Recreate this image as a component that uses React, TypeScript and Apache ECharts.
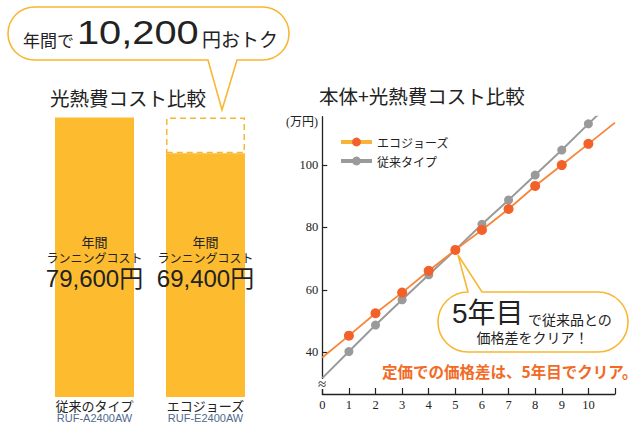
import React, { useEffect, useRef } from 'react';
import * as echarts from 'echarts';

// ---- data ----
const barCategories = ['従来のタイプ', 'エコジョーズ'];
const barModels = ['RUF-A2400AW', 'RUF-E2400AW'];
const runningCosts = [79600, 69400];
const savingGap: (number | null)[] = [null, 10200];

const years = [0, 1, 2, 3, 4, 5, 6, 7, 8, 9, 10, 11];
const ecoTotals = [38.3, 45.3, 52.5, 59.1, 66.1, 72.8, 79.2, 85.9, 93.3, 100.0, 106.8, 113.6];
const conventionalTotals = [31.7, 40.2, 48.7, 56.8, 64.8, 72.8, 81.0, 88.8, 96.8, 104.8, 113.2, 121.4];
const markedYears = [1, 2, 3, 4, 5, 6, 7, 8, 9, 10];
const yTickValues = [40, 60, 80, 100];
const xLabelMax = 10;

const SERIES_ECO = 'エコジョーズ';
const SERIES_CONV = '従来タイプ';

const CJK = '"Noto Sans CJK JP", sans-serif';
const LATIN = '"Liberation Sans", "Noto Sans CJK JP", sans-serif';
const SERIF = '"Liberation Serif", "DejaVu Serif", serif';

const BUBBLE1 =
  'M 34.5 7 H 262.5 A 26.5 26.5 0 0 1 289 33.5 A 26.5 26.5 0 0 1 262.5 60 H 237 L 222 110 L 208 60 H 34.5 A 26.5 26.5 0 0 1 8 33.5 A 26.5 26.5 0 0 1 34.5 7 Z';
const BUBBLE2 =
  'M 482 292 H 598 A 30 30 0 0 1 628 322 A 30 30 0 0 1 598 352 H 468 A 30 30 0 0 1 438 322 A 30 30 0 0 1 468 292 L 458 255 Z';

let registered = false;
function registerShapes() {
  if (registered) return;
  registered = true;
  echarts.graphic.registerShape('bubbleTop', echarts.graphic.extendPath(BUBBLE1, {}) as any);
  echarts.graphic.registerShape('bubbleRight', echarts.graphic.extendPath(BUBBLE2, {}) as any);
}

const fmt = (v: number) => v.toLocaleString('en-US');

export default function App() {
  const ref = useRef<HTMLDivElement>(null);
  useEffect(() => {
    if (!ref.current) return;
    registerShapes();
    const chart = echarts.init(ref.current, undefined, { renderer: 'svg' });
    const lineData = (vals: number[]) =>
      years.map((x, i) => ({
        value: [x, vals[i]],
        symbol: markedYears.includes(x) ? 'circle' : 'none',
      }));
    const option: any = {
      animation: false,
      backgroundColor: '#ffffff',
      textStyle: { fontFamily: CJK, color: '#222' },
      grid: [
        { left: 39, width: 222, top: 117.5, height: 279.5 },
        { left: 322.3, width: 292.7, top: 116.7, height: 277.3 },
      ],
      xAxis: [
        {
          type: 'category',
          gridIndex: 0,
          data: barCategories,
          axisLine: { show: false },
          axisTick: { show: false },
          axisLabel: {
            interval: 0,
            hideOverlap: false,
            margin: 1,
            formatter: (v: string, i: number) => `{a|${v}}\n{b|${barModels[i]}}`,
            rich: {
              a: { fontFamily: CJK, fontSize: 13, color: '#222', lineHeight: 14 },
              b: { fontFamily: '"Liberation Sans", sans-serif', fontSize: 11, color: '#4f6a8c', lineHeight: 12 },
            },
          },
        },
        {
          type: 'value',
          gridIndex: 1,
          min: 0,
          max: 11,
          interval: 1,
          axisLine: { lineStyle: { color: '#222', width: 1.3 } },
          axisTick: { inside: true, length: 6, lineStyle: { color: '#222', width: 1.2 } },
          axisLabel: {
            margin: 4,
            fontFamily: SERIF,
            fontSize: 12.5,
            color: '#222',
            formatter: (v: number) => (v <= xLabelMax ? String(v) : ''),
          },
          splitLine: { show: false },
        },
      ],
      yAxis: [
        { type: 'value', gridIndex: 0, min: 0, max: runningCosts[0], show: false },
        {
          type: 'value',
          gridIndex: 1,
          min: 26.6,
          max: 115.5,
          axisLine: { show: true, lineStyle: { color: '#222', width: 1.3 } },
          axisTick: { show: true, inside: true, length: 5, customValues: yTickValues, lineStyle: { color: '#222', width: 1.2 } },
          axisLabel: {
            margin: 4,
            customValues: yTickValues,
            color: '#222222',
            formatter: (v: number) => `{k|${v}}`,
            rich: { k: { fontFamily: SERIF, fontSize: 12.5, color: '#222222' } },
          },
          splitLine: { show: false },
        },
      ],
      legend: {
        orient: 'vertical',
        left: 339,
        top: 136,
        padding: 0,
        itemWidth: 31,
        itemHeight: 11,
        itemGap: 7,
        textStyle: { fontFamily: CJK, fontSize: 12, color: '#222' },
        data: [
          { name: SERIES_ECO, itemStyle: { color: '#f4602a' }, lineStyle: { color: '#f7b43a', width: 4 } },
          { name: SERIES_CONV, itemStyle: { color: '#9a9a9a' }, lineStyle: { color: '#9a9a9a', width: 4 } },
        ],
      },
      series: [
        {
          type: 'bar',
          xAxisIndex: 0,
          yAxisIndex: 0,
          stack: 'cost',
          barWidth: 79,
          data: runningCosts,
          itemStyle: { color: '#fdbc30' },
          label: {
            show: true,
            position: 'insideBottom',
            distance: 106,
            formatter: (p: any) => `{a|年間}\n{b|ランニングコスト}\n{c|${fmt(p.value)}円}`,
            rich: {
              a: { fontFamily: CJK, fontSize: 13, color: '#222', lineHeight: 16, align: 'center' },
              b: { fontFamily: CJK, fontSize: 12, color: '#222', lineHeight: 16, align: 'center' },
              c: { fontFamily: LATIN, fontSize: 24, color: '#222', lineHeight: 26, align: 'center' },
            },
          },
        },
        {
          type: 'bar',
          xAxisIndex: 0,
          yAxisIndex: 0,
          stack: 'cost',
          barWidth: 79,
          data: savingGap,
          itemStyle: {
            color: '#ffffff',
            borderColor: '#f8b733',
            borderWidth: 1.5,
            borderType: [6, 4],
          },
        },
        {
          name: SERIES_CONV,
          type: 'line',
          xAxisIndex: 1,
          yAxisIndex: 1,
          data: lineData(conventionalTotals),
          symbol: 'circle',
          symbolSize: 9,
          color: '#9a9a9a',
          itemStyle: { color: '#9a9a9a' },
          lineStyle: { color: '#9a9a9a', width: 2 },
          clip: true,
        },
        {
          name: SERIES_ECO,
          type: 'line',
          xAxisIndex: 1,
          yAxisIndex: 1,
          data: lineData(ecoTotals),
          symbol: 'circle',
          symbolSize: 10,
          color: '#f4602a',
          itemStyle: { color: '#f4602a' },
          lineStyle: { color: '#f6863a', width: 1.8 },
          clip: true,
        },
      ],
      graphic: [
        // top callout
        { type: 'bubbleTop', z: 10, shape: {}, style: { fill: '#ffffff', stroke: '#f8b733', lineWidth: 1.6 } },
        { type: 'text', z: 11, x: 23, y: 39, style: { text: '年間で', fontFamily: CJK, fontSize: 17, fill: '#222', verticalAlign: 'middle' } },
        { type: 'text', z: 11, x: 77, y: 33, scaleX: 1.17, style: { text: '10,200', fontFamily: LATIN, fontSize: 34, fill: '#222', verticalAlign: 'middle' } },
        { type: 'text', z: 11, x: 202, y: 38, style: { text: '円おトク', fontFamily: CJK, fontSize: 19, fill: '#222', verticalAlign: 'middle' } },
        // titles
        { type: 'text', z: 11, x: 50, y: 97, style: { text: '光熱費コスト比較', fontFamily: CJK, fontSize: 19.5, fill: '#222', verticalAlign: 'middle' } },
        { type: 'text', z: 11, x: 319, y: 95, style: { text: '本体+光熱費コスト比較', fontFamily: CJK, fontSize: 19.5, fill: '#222', verticalAlign: 'middle' } },
        // unit
        { type: 'text', z: 11, x: 318, y: 122, style: { text: '(万円)', fontFamily: '"Liberation Serif", "Noto Sans CJK JP", serif', fontSize: 12, fill: '#222', align: 'right', verticalAlign: 'middle' } },
        // axis break
        { type: 'rect', z: 12, shape: { x: 316, y: 379, width: 12, height: 10 }, style: { fill: '#ffffff' } },
        { type: 'text', z: 13, x: 322, y: 384, style: { text: '≈', fontFamily: SERIF, fontSize: 15, fill: '#222', align: 'center', verticalAlign: 'middle' } },
        // right callout
        { type: 'bubbleRight', z: 10, shape: {}, style: { fill: '#ffffff', stroke: '#f8b733', lineWidth: 1.6 } },
        { type: 'text', z: 11, x: 452, y: 313, style: { text: '5年目', fontFamily: LATIN, fontSize: 28, fill: '#222', verticalAlign: 'middle' } },
        { type: 'text', z: 11, x: 528, y: 318.5, style: { text: 'で従来品との', fontFamily: CJK, fontSize: 14, fill: '#222', verticalAlign: 'middle' } },
        { type: 'text', z: 11, x: 532.5, y: 337, style: { text: '価格差をクリア！', fontFamily: CJK, fontSize: 14, fill: '#222', align: 'center', verticalAlign: 'middle' } },
        // red note
        { type: 'text', z: 11, x: 382, y: 370.5, style: { text: '定価での価格差は、5年目でクリア。', fontFamily: CJK, fontSize: 15.5, fontWeight: 'bold', fill: '#f26a25', verticalAlign: 'middle' } },
      ],
    };
    chart.setOption(option);
    return () => chart.dispose();
  }, []);
  return <div ref={ref} style={{ position: 'fixed', left: 0, top: 0, width: 640, height: 432 }} />;
}
